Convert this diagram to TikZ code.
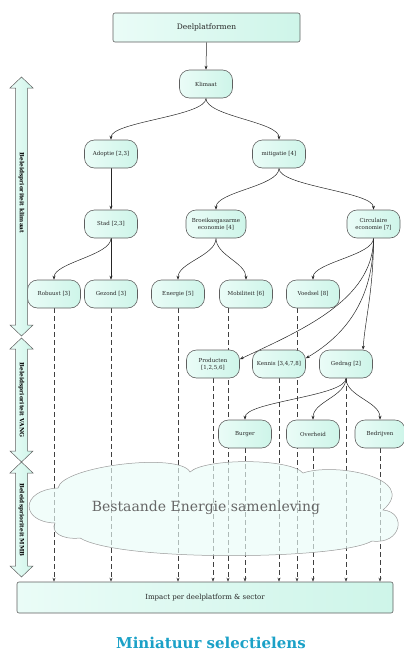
\documentclass[tikz,border=0pt]{standalone}
\usepackage{fontspec}
\setmainfont{DejaVu Serif}
\usetikzlibrary{arrows.meta,calc,backgrounds}

\definecolor{mintlight}{RGB}{234,252,247}
\definecolor{mintdark}{RGB}{206,245,233}
\definecolor{boxline}{RGB}{95,95,95}
\definecolor{titleblue}{RGB}{27,161,199}

\tikzset{
  topic/.style={draw=boxline, line width=0.6pt, rounded corners=10pt,
    left color=mintlight, right color=mintdark, minimum width=53pt,
    minimum height=28pt, inner sep=1pt, align=center, text=black!85,
    font=\fontsize{5.5}{6.6}\selectfont},
  banner/.style={topic, rounded corners=2pt},
  link/.style={line width=0.5pt, draw=black!85, -{Stealth[length=4pt,width=3pt]}},
  impactline/.style={link, draw=black!75, dash pattern=on 5pt off 3pt},
  prio/.style={draw=boxline, line width=0.5pt, left color=mintlight, right color=mintdark},
  priotext/.style={rotate=-90, font=\fontsize{5.8}{7}\selectfont\bfseries},
}

\begin{document}
\begin{tikzpicture}[x=1pt, y=-1pt]
  \useasboundingbox (0,0) rectangle (404,654);

  \node[banner, minimum width=187pt, minimum height=29pt, font=\fontsize{7.5}{9}\selectfont] (deel) at (206.5,27.5) {Deelplatformen};
  \node[topic] (klim) at (206,84) {Klimaat};
  \node[topic] (adop) at (111,154) {Adoptie [2,3]};
  \node[topic] (miti) at (279,154) {mitigatie [4]};
  \node[topic] (stad) at (111,224) {Stad [2,3]};
  \node[topic, minimum width=60pt] (broe) at (216,224) {Broeikasgasarme\\economie [4]};
  \node[topic] (circ) at (373.5,224) {Circulaire\\economie [7]};
  \node[topic] (robu) at (54,294) {Robuust [3]};
  \node[topic] (gezo) at (111,294) {Gezond [3]};
  \node[topic] (ener) at (178,294) {Energie [5]};
  \node[topic] (mobi) at (246,294) {Mobiliteit [6]};
  \node[topic] (voed) at (313,294) {Voedsel [8]};
  \node[topic] (prod) at (213,364) {Producten\\{}[1,2,5,6]};
  \node[topic] (kenn) at (279,364) {Kennis [3,4,7,8]};
  \node[topic] (gedr) at (346,364) {Gedrag [2]};
  \node[topic] (burg) at (245,434) {Burger};
  \node[topic] (over) at (313,434) {Overheid};
  \node[topic, minimum width=50pt] (bedr) at (380,434) {Bedrijven};
  \node[banner, minimum width=376pt, minimum height=31pt, font=\fontsize{7}{8.5}\selectfont] (impa) at (205,597.5) {Impact per deelplatform \& sector};

  \coordinate (mobiout) at ($(mobi.south)+(-18,0)$);
  \coordinate (voedout) at ($(voed.south)+(-16,0)$);

  \begin{scope}[on background layer]
    \foreach \n in {robu,gezo,ener,prod,burg,kenn,over,gedr,bedr,mobiout,voedout}
      \draw[impactline] (\n.south) -- (\n.south |- impa.north);
    \draw[link] (deel.south) -- (klim.north);
    \draw[link] (klim.south) .. controls +(0,18) and +(0,-18) .. (adop.north);
    \draw[link] (klim.south) .. controls +(0,18) and +(0,-18) .. (miti.north);
    \draw[link] (adop.south) -- (stad.north);
    \draw[link] (miti.south) .. controls +(0,18) and +(0,-18) .. (broe.north);
    \draw[link] (miti.south) .. controls +(0,18) and +(0,-18) .. (circ.north);
    \draw[link] (stad.south) .. controls +(0,17) and +(0,-17) .. (robu.north);
    \draw[link] (stad.south) -- (gezo.north);
    \draw[link] (broe.south) .. controls +(0,17) and +(0,-17) .. (ener.north);
    \draw[link] (broe.south) .. controls +(0,17) and +(0,-17) .. (mobi.north);
    \draw[link] (circ.south) .. controls +(0,17) and +(0,-17) .. (voed.north);
    \draw[link] (circ.south) .. controls +(0,62) and +(61,-29) .. (prod.10);
    \draw[link] (circ.south) .. controls +(0,62) and +(39,-23) .. (kenn.12);
    \draw[link] (circ.south) .. controls +(0,52) and +(2,-30) .. (gedr.40);
    \draw[link] (gedr.south) .. controls +(0,18) and +(0,-18) .. (burg.north);
    \draw[link] (gedr.south) .. controls +(0,18) and +(0,-18) .. (over.north);
    \draw[link] (gedr.south) .. controls +(0,18) and +(0,-18) .. (bedr.north);
  \end{scope}

  \foreach \t/\b/\lab/\m in {77/336/klimaat/193, 338/462/VANG/400, 462/577/MMB/520} {
    \draw[prio] (21.5,\t) -- (33,\t+11) -- (27.5,\t+11) -- (27.5,\b-11) -- (33,\b-11) -- (21.5,\b)
      -- (10,\b-11) -- (15.5,\b-11) -- (15.5,\t+11) -- (10,\t+11) -- cycle;
    \node[priotext] (prio\lab) at (21.5,\m) {Beleidsprioriteit \lab};
  }

  \path[draw=black!40, fill=mintlight, fill opacity=0.65, line width=0.5pt]
    (58,488) .. controls (62,466) and (180,452) .. (190,472)
    .. controls (205,458) and (290,458) .. (303,473)
    .. controls (335,462) and (420,478) .. (383,510)
    .. controls (407,512) and (402,545) .. (372,541)
    .. controls (340,560) and (120,562) .. (80,538)
    .. controls (62,540) and (50,532) .. (55,523)
    .. controls (20,522) and (20,490) .. (58,488) -- cycle;
  \node[font=\fontsize{14}{16}\selectfont, text=black!60] (cloudtext) at (206,508) {Bestaande Energie samenleving};

  \node[anchor=base, font=\fontsize{15}{18}\selectfont\bfseries, text=titleblue] (title) at (211,648) {Miniatuur selectielens};
\end{tikzpicture}
\end{document}
